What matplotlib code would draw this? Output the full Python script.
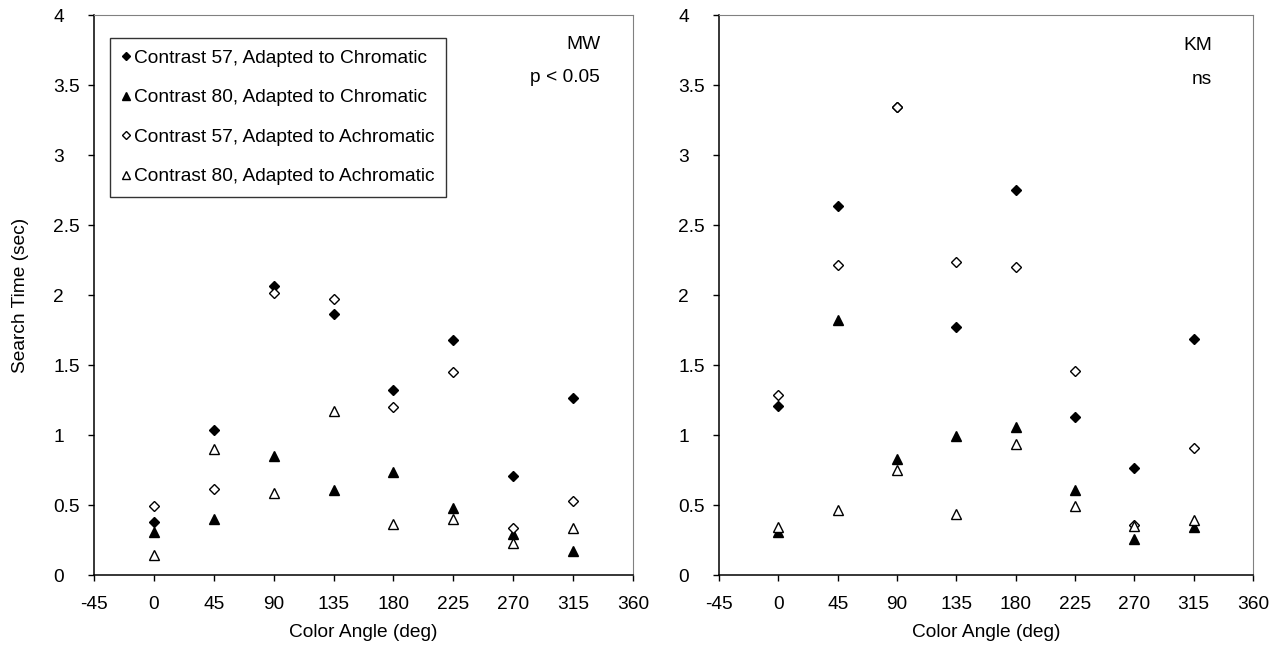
import matplotlib.pyplot as plt

plt.rcParams['font.family'] = ['Liberation Sans', 'DejaVu Sans']
plt.rcParams['axes.unicode_minus'] = False

angles = [0, 45, 90, 135, 180, 225, 270, 315]

# Subject MW
mw_c57_chrom = [0.376, 1.036, 2.064, 1.862, 1.319, 1.679, 0.710, 1.267]
mw_c80_chrom = [0.310, 0.398, 0.852, 0.607, 0.733, 0.476, 0.290, 0.174]
mw_c57_achrom = [0.493, 0.614, 2.017, 1.971, 1.202, 1.450, 0.333, 0.529]
mw_c80_achrom = [0.143, 0.900, 0.588, 1.171, 0.367, 0.398, 0.226, 0.338]

# Subject KM
km_c57_chrom = [1.207, 2.633, 3.345, 1.775, 2.752, 1.131, 0.766, 1.686]
km_c80_chrom = [0.304, 1.820, 0.826, 0.994, 1.059, 0.604, 0.259, 0.340]
km_c57_achrom = [1.284, 2.212, 3.345, 2.233, 2.202, 1.459, 0.360, 0.910]
km_c80_achrom = [0.340, 0.467, 0.750, 0.436, 0.939, 0.491, 0.347, 0.395]

labels = ["Contrast 57, Adapted to Chromatic",
          "Contrast 80, Adapted to Chromatic",
          "Contrast 57, Adapted to Achromatic",
          "Contrast 80, Adapted to Achromatic"]

styles = [dict(marker="D", ms=5.5, mfc="black", mec="black"),
          dict(marker="^", ms=7, mfc="black", mec="black"),
          dict(marker="D", ms=5.5, mfc="white", mec="black", mew=1),
          dict(marker="^", ms=7, mfc="white", mec="black", mew=1)]

FS = 13.8

fig = plt.figure(figsize=(12.76, 6.45), dpi=100)
W, H = 1276, 645
ax1 = fig.add_axes([94 / W, 1 - 575 / H, (633 - 94) / W, (575 - 15) / H])
ax2 = fig.add_axes([719 / W, 1 - 575 / H, (1253 - 719) / W, (575 - 15) / H])


def setup(ax):
    ax.set_xlim(-45, 360)
    ax.set_ylim(0, 4)
    ax.set_xticks(range(-45, 361, 45))
    ax.set_yticks([0, 0.5, 1, 1.5, 2, 2.5, 3, 3.5, 4])
    ax.set_yticklabels(["0", "0.5", "1", "1.5", "2", "2.5", "3", "3.5", "4"])
    ax.tick_params(direction="out", length=4.3, width=1, labelsize=FS, color="black")
    ax.tick_params(axis="x", pad=10.5)
    ax.tick_params(axis="y", pad=25)
    for lab in ax.get_yticklabels():
        lab.set_horizontalalignment("left")
    for s in ["top", "right"]:
        ax.spines[s].set_color("#808080")
    for s in ["left", "bottom"]:
        ax.spines[s].set_color("black")
        ax.spines[s].set_linewidth(1.1)
    ax.set_xlabel("Color Angle (deg)", fontsize=FS, labelpad=8)


setup(ax1)
setup(ax2)

for series, st, lab in zip([mw_c57_chrom, mw_c80_chrom, mw_c57_achrom, mw_c80_achrom], styles, labels):
    ax1.plot(angles, series, ls="none", label=lab, **st)

# open diamond drawn last so it sits on top at 90 deg for KM
for series, st in zip([km_c57_chrom, km_c80_chrom, km_c57_achrom, km_c80_achrom], styles):
    ax2.plot(angles, series, ls="none", **st)

ax1.set_ylabel("Search Time (sec)", fontsize=FS)
ax1.yaxis.set_label_coords(-0.12, 0.5)

leg = ax1.legend(loc="upper left", bbox_to_anchor=(0.0297, 0.959), frameon=True, fancybox=False,
                 edgecolor="black", fontsize=FS, handletextpad=0.15, handlelength=0.5,
                 labelspacing=1.15, borderpad=0.6, borderaxespad=0, markerscale=0.75)
leg.get_frame().set_linewidth(1)

ax1.text(0.939, 0.948, "MW", transform=ax1.transAxes, ha="right", va="center", fontsize=FS)
ax1.text(0.939, 0.8875, "p < 0.05", transform=ax1.transAxes, ha="right", va="center", fontsize=FS)
ax2.text(0.923, 0.946, "KM", transform=ax2.transAxes, ha="right", va="center", fontsize=FS)
ax2.text(0.923, 0.884, "ns", transform=ax2.transAxes, ha="right", va="center", fontsize=FS)

fig.savefig("out.png", dpi=100)
